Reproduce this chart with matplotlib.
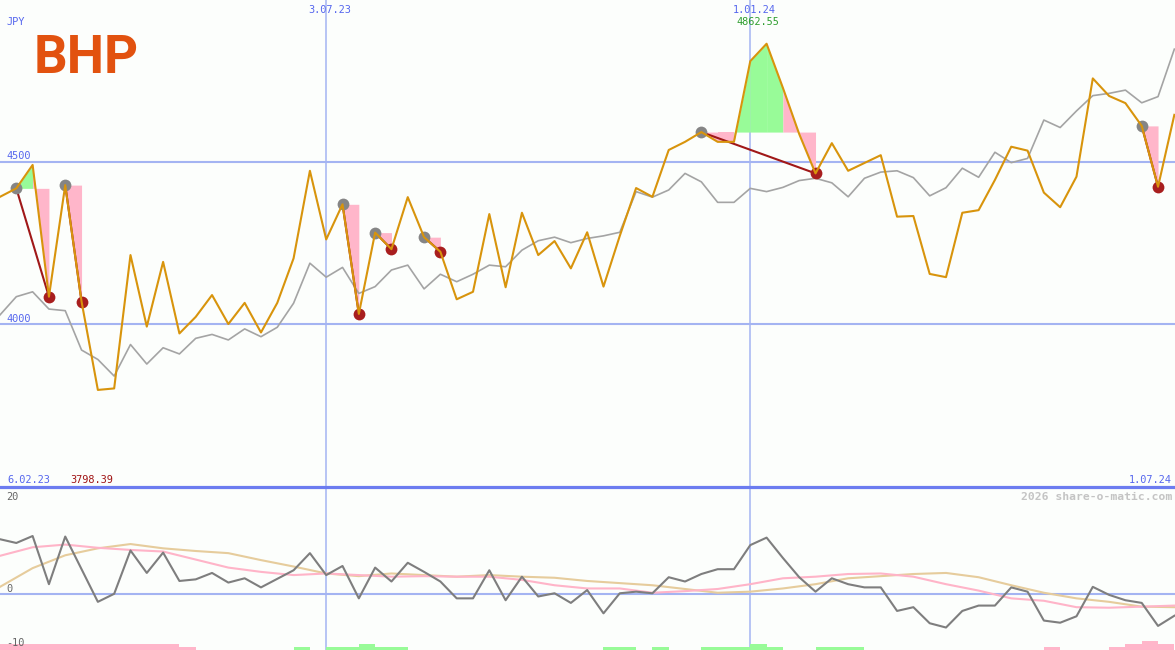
import matplotlib
matplotlib.use("Agg")
import matplotlib.pyplot as plt
import numpy as np

W, H = 1175, 650

# ── Data (weekly, 13.02.23 … 1.07.24) ─────────────────────────────────────────
price = [4392, 4418, 4490, 4085, 4428, 4070, 3798.39, 3803, 4213, 3993,
         4192, 3972, 4023, 4090, 4001, 4066, 3975, 4066, 4203, 4472,
         4261, 4369, 4032, 4282, 4231, 4391, 4268, 4223, 4077, 4100,
         4339, 4114, 4343, 4213, 4256, 4172, 4283, 4116, 4272, 4419,
         4392, 4536, 4561, 4591, 4561, 4561, 4809, 4862.55, 4727, 4585,
         4464, 4557, 4472, 4496, 4520, 4331, 4333, 4155, 4145, 4343,
         4351, 4444, 4546, 4534, 4405, 4360, 4454, 4756, 4702, 4680,
         4610, 4423, 4644]

bench = [4029, 4085, 4100, 4047, 4042, 3921, 3892, 3841, 3938, 3878,
         3928, 3909, 3957, 3969, 3952, 3986, 3962, 3991, 4065, 4188,
         4145, 4175, 4095, 4116, 4167, 4182, 4109, 4154, 4131, 4154,
         4182, 4177, 4228, 4257, 4268, 4251, 4264, 4272, 4283, 4408,
         4391, 4413, 4464, 4438, 4375, 4375, 4418, 4408, 4421, 4442,
         4449, 4435, 4392, 4449, 4468, 4472, 4451, 4395, 4420, 4480,
         4452, 4529, 4497, 4510, 4628, 4605, 4656, 4703, 4710, 4720,
         4681, 4700, 4846]

# (entry week, exit week)
signal_pairs = [(1, 3), (4, 5), (21, 22), (23, 24), (26, 27), (43, 50), (70, 71)]

momentum = [10.3, 9.6, 10.9, 1.9, 10.8, 4.7, -1.4, 0.1, 8.2, 4.0,
            7.8, 2.5, 2.8, 4.0, 2.2, 3.0, 1.3, 2.9, 4.5, 7.7,
            3.6, 5.3, -0.75, 5.0, 2.4, 5.9, 4.2, 2.4, -0.75, -0.75,
            4.5, -1.1, 3.3, -0.4, 0.2, -1.6, 0.8, -3.55, 0.2, 0.5,
            0.2, 3.2, 2.4, 3.8, 4.7, 4.7, 9.2, 10.6, 6.8, 3.2,
            0.5, 3.0, 1.9, 1.3, 1.3, -3.1, -2.4, -5.4, -6.2, -3.1,
            -2.1, -2.1, 1.3, 0.5, -4.9, -5.3, -4.1, 1.4, -0.1, -1.1,
            -1.6, -5.9, -4.0]

smooth_weeks = list(range(0, 73, 2))
avg_fast = [7.2, 8.8, 9.3, 8.7, 8.3, 8.0, 6.5, 5.0, 4.2, 3.6,
            3.9, 3.6, 3.3, 3.4, 3.3, 3.3, 2.7, 1.7, 1.1, 1.1,
            0.3, 0.6, 1.0, 1.9, 3.0, 3.3, 3.8, 3.9, 3.3, 1.9,
            0.7, -0.75, -1.2, -2.4, -2.5, -2.3, -2.1]
avg_slow = [1.4, 4.9, 7.3, 8.6, 9.4, 8.6, 8.1, 7.7, 6.4, 5.2,
            3.9, 3.4, 3.9, 3.6, 3.3, 3.6, 3.3, 3.1, 2.5, 2.1,
            1.7, 1.0, 0.3, 0.5, 1.1, 1.9, 3.0, 3.4, 3.8, 4.0,
            3.2, 1.7, 0.3, -0.75, -1.4, -2.3, -2.4]

# signal strength bars (+ green, - pink)
hist = [-2, -2, -2, -2, -2, -2, -2, -2, -2, -2,
        -2, -1, 0, 0, 0, 0, 0, 0, 1, 0,
        1, 1, 2, 1, 1, 0, 0, 0, 0, 0,
        0, 0, 0, 0, 0, 0, 0, 1, 1, 0,
        1, 0, 0, 1, 1, 1, 2, 1, 0, 0,
        1, 1, 1, 0, 0, 0, 0, 0, 0, 0,
        0, 0, 0, 0, -1, 0, 0, 0, -1, -2,
        -3, -2, 0]

# ── Styling ───────────────────────────────────────────────────────────────────
BG = "#FCFEFC"
GRID = "#A4B4F2"
BLUE_TXT = "#5566EE"
ORANGE = "#D8940C"
GREEN_FILL = "#98FB98"
PINK_FILL = "#FFB6CA"

fig = plt.figure(figsize=(W / 100, H / 100), dpi=100)
fig.patch.set_facecolor(BG)
ax = fig.add_axes([0, 163 / H, 1, 487 / H])
ax2 = fig.add_axes([0, 0, 1, 163 / H])
for a in (ax, ax2):
    a.set_facecolor(BG)
    a.set_xticks([])
    a.set_yticks([])
    for s in a.spines.values():
        s.set_visible(False)
    a.set_xlim(0, 72.04)

x = np.arange(len(price))
ax.set_ylim(3500, 4997)
ax2.set_ylim(-10.4, 20.06)

# grid
for lvl in (4500, 4000):
    ax.axhline(lvl, color=GRID, lw=1.5, zorder=1)
for wk in (20, 46):
    ax.axvline(wk, color=GRID, lw=1.1, zorder=1)
    ax2.axvline(wk, color=GRID, lw=1.1, zorder=1)
ax2.axhline(20.06, color="#6C7CF0", lw=2.3, zorder=5, clip_on=False)
ax2.axhline(0, color=GRID, lw=1.5, zorder=1)

# signal fills: per week, green if the close ends above entry level
for s, e in signal_pairs:
    lvl = price[s]
    for k in range(s, e):
        col = GREEN_FILL if price[k + 1] > lvl else PINK_FILL
        ax.fill_between([k, k + 1], [lvl, lvl], [price[k], price[k + 1]],
                        color=col, lw=0, zorder=2)

ax.plot(x, bench, color="#A4A4A4", lw=1.2, zorder=3)
for s, e in signal_pairs:
    ax.plot([s, e], [price[s], price[e]], color="#A01818", lw=1.5, zorder=4)
    ax.plot(s, price[s], "o", color="#858585", ms=8.5, mec="none", zorder=5)
    ax.plot(e, price[e], "o", color="#A81E1E", ms=8.5, mec="none", zorder=5)
ax.plot(x, price, color=ORANGE, lw=1.5, zorder=6)

# lower panel
hv = np.array(hist)
bar_cols = [GREEN_FILL if v > 0 else PINK_FILL for v in hv]
ax2.bar(x, np.abs(hv) * 0.56, width=1.0, align="edge", bottom=-10.4,
        color=bar_cols, lw=0, zorder=2)
ax2.plot(smooth_weeks, avg_slow, color="#E6CC9C", lw=1.5, zorder=3)
ax2.plot(smooth_weeks, avg_fast, color="#FFB4C8", lw=1.5, zorder=3)
ax2.plot(x, momentum, color="#7E7E7E", lw=1.5, zorder=4)


# ── Text ─────────────────────────────────────────────────────────────────────
def label(px, py, s, color=BLUE_TXT, ha="left", size=7.4, **kw):
    fig.text(px / W, 1 - py / H, s, color=color, ha=ha, va="baseline",
             fontsize=size, family="DejaVu Sans Mono", **kw)


label(6, 25, "JPY")
label(330, 13, "3.07.23", ha="center")
label(754, 13, "1.01.24", ha="center")
label(758, 25, "4862.55", color="#2E9E2E", ha="center")
label(6, 159, "4500")
label(6, 322, "4000")
label(7, 483, "6.02.23")
label(70, 483, "3798.39", color="#A01414")
label(1172, 483, "1.07.24", ha="right")
label(1172, 500, "2026 share-o-matic.com", color="#C4C4C4", ha="right",
      size=8.2, weight="bold")
label(6, 500, "20", color="#666666")
label(6, 592, "0", color="#666666")
label(6, 646, "-10", color="#666666")

fig.text(34 / W, 1 - 73 / H, "BHP", fontsize=38, weight="bold",
         family=["Roboto", "DejaVu Sans"], color="#E2520F", va="baseline")

fig.savefig("out.png", dpi=100, facecolor=BG)
